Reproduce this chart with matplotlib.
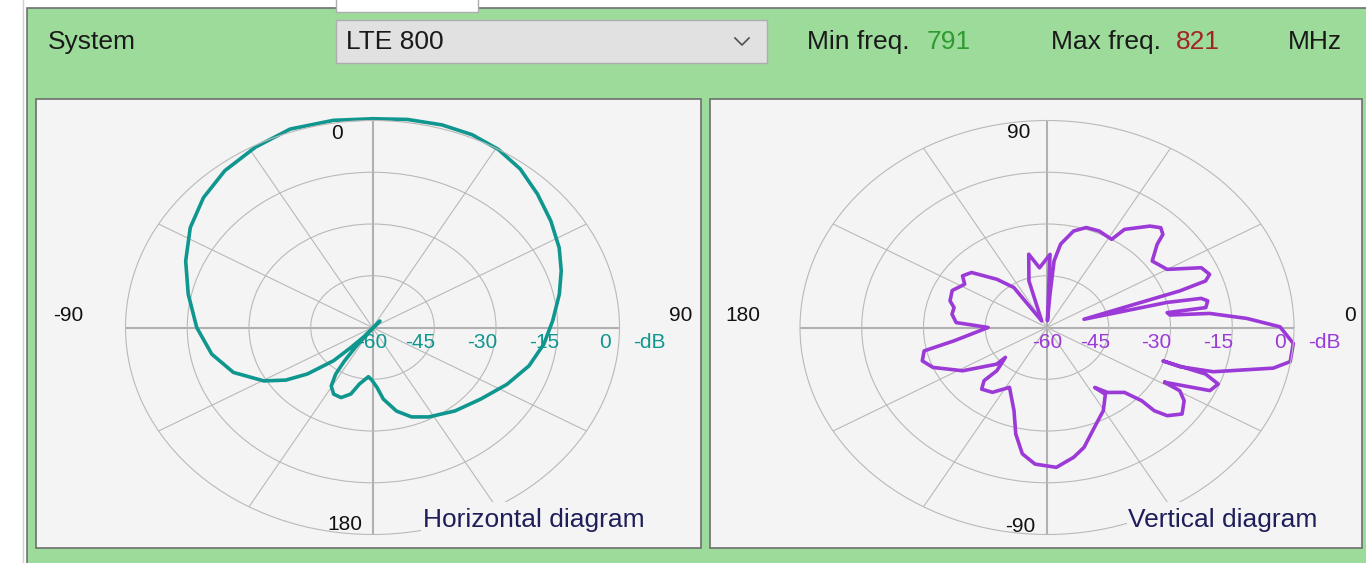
import numpy as np
import matplotlib
matplotlib.use("Agg")
import matplotlib.pyplot as plt
from matplotlib.patches import Rectangle
from matplotlib.lines import Line2D

# ---- data ----
system_name = "LTE 800"
min_freq = "791"
max_freq = "821"

# horizontal diagram: angle in deg, clockwise from north, level in dB
h_angles = [0, 8, 16, 23.4, 30.6, 38, 46, 54.5, 63, 70.3, 78, 87.5, 96.6, 106.3,
            116.7, 128.2, 140.4, 152.2, 159.9, 166.5, 172.8, 176.4, 180.7, 184,
            191, 195.3, 200.6, 206, 210.6, 213.5, 215, 216, 216, 224, 218, 222.2,
            224.5, 229.6, 234.1, 239.6, 248.9, 258.8, 270, 282.2, 293, 303.2, 312.5,
            321.7, 331.4, 340.8, 351, 360]
h_db = [0.5, 0.9, 1.1, 0.9, 0, -1.7, -4.3, -6.8, -9.1, -11.3, -13.6, -16.2, -18.1,
        -20.4, -23.4, -26.5, -28.6, -30.7, -32.4, -35.1, -39.1, -42.6, -44.8, -45.7,
        -43.3, -40, -38.3, -38.5, -40.3, -43.8, -48, -52.8, -56.4, -62.6, -56.6,
        -52.1, -46.5, -39.2, -34, -29.4, -23.8, -20.2, -17.3, -14.2, -10.7, -7.1,
        -4.3, -2.1, -0.5, 0.9, 0.8, 0.5]

# vertical diagram: angle in deg, counter-clockwise from east, level in dB
v_angles = [331, 335.2, 338.5, 340.7, 341, 341, 340.6, 342.4, 347.9, 350.5, 355.6,
            0.2, 3.1, 5.9, 6.9, 8.4, 8.5, 11.2, 12.7, 14, 14.9, 18.2, 19.3, 21.3, 24.8,
            30, 37, 42, 43.8, 46.3, 49.6, 56.5, 58.4, 65.7, 71.8, 77, 82.2, 84.9, 85.7,
            87, 88, 96, 101.8, 108, 124, 124.8, 131, 139, 143.9, 147.9, 155, 161.8,
            165.7, 170.5, 176.3, 180, 189.7, 192.8, 197.7, 202.7, 211.5, 221, 220.6,
            225.8, 225.2, 228.4, 234.8, 242.3, 251.6, 256.2, 260.7, 265.8, 273.2,
            279.7, 284.5, 291.8, 299.6, 306.2, 303.7, 308, 315, 317.3, 317.2, 318.8,
            322.6, 327.5, 330.4, 331]
v_db = [-27.2, -16.4, -15.3, -19.2, -30.2, -29.7, -25.8, -17.6, -3.8, -0.1, 0,
        -3.4, -11.4, -20.3, -29.9, -30.5, -21, -20.2, -21.6, -30, -50.7, -26, -19.2,
        -17.6, -18.7, -26.3, -28, -24, -21, -20, -21.4, -25.9, -30, -29.3, -29.5,
        -31.3, -35.6, -40.6, -50.3, -58, -38.8, -42.6, -38.3, -45.8, -57.7, -45.9,
        -41.5, -35.7, -34.6, -36.4, -34.6, -35.2, -36.7, -36.6, -37.9, -45.7, -37.1,
        -29.4, -28.2, -30, -36, -43.8, -46.7, -42.5, -38.3, -36.1, -37, -40.4, -34.6,
        -28.2, -22.9, -20.3, -19.4, -21.8, -24.1, -28.9, -32.3, -36, -39.1, -36.1,
        -33.4, -28.7, -24.5, -21.2, -18.7, -20.5, -22.9, -27.2]

ring_levels = [-60, -45, -30, -15, 0]

W, H = 1366, 563
plt.rcParams['font.family'] = ['Liberation Sans', 'DejaVu Sans']

GREEN = "#9ddb9b"
PANEL = "#f4f4f4"
GRID = "#b9b9b9"
TEAL = "#0f968e"
PURPLE = "#9c3ad8"


def fx(x):
    return x / W


def fy(y):
    return 1 - y / H


fig = plt.figure(figsize=(W / 100, H / 100), dpi=100, facecolor="white")


def box(x0, y0, x1, y1, **kw):
    r = Rectangle((fx(x0), fy(y1)), (x1 - x0) / W, (y1 - y0) / H,
                  transform=fig.transFigure, **kw)
    fig.add_artist(r)
    return r


def fline(xs, ys, **kw):
    fig.add_artist(Line2D([fx(x) for x in xs], [fy(y) for y in ys],
                          transform=fig.transFigure, **kw))


# window frame
fline([23, 23], [0, H], color="#d0d0d0", lw=1, zorder=-3)
box(27, 8, W + 5, H + 5, facecolor=GREEN, edgecolor="#707070", lw=1.2, zorder=-2)
box(336, -5, 478, 12, facecolor="white", edgecolor="#adadad", lw=1, zorder=-1)

# top bar
box(336, 20, 767, 63, facecolor="#e1e1e1", edgecolor="#adadad", lw=1, zorder=-1)
fline([735, 742, 749], [38, 45, 38], color="#505050", lw=1.2)
ui = dict(fontsize=19, va="center", ha="left")
fig.text(fx(48), fy(42), "System", color="#1a1a1a", **ui)
fig.text(fx(346), fy(42), system_name, color="#1a1a1a", **ui)
fig.text(fx(807), fy(42), "Min freq.", color="#1a1a1a", **ui)
fig.text(fx(927), fy(42), min_freq, color="#2f9a2f", **ui)
fig.text(fx(1051), fy(42), "Max freq.", color="#1a1a1a", **ui)
fig.text(fx(1176), fy(42), max_freq, color="#a32323", **ui)
fig.text(fx(1288), fy(42), "MHz", color="#1a1a1a", **ui)

# panels
box(36, 99, 701, 548, facecolor=PANEL, edgecolor="#6e6e6e", lw=1.2, zorder=-1)
box(710, 99, 1362, 548, facecolor=PANEL, edgecolor="#6e6e6e", lw=1.2, zorder=-1)


def to_polar(angles, db):
    # levels below -60 dB end up on the far side of the centre, as in the app
    r = np.asarray(db, dtype=float) + 60
    th = np.radians(angles) + np.where(r < 0, np.pi, 0)
    return th, np.abs(r)


def make_polar(cx, clockwise_north):
    rx, ry = 247, 207
    cy = 327.5
    ax = fig.add_axes([fx(cx - rx), fy(cy + ry), 2 * rx / W, 2 * ry / H],
                      projection="polar")
    ax.set_aspect("auto")
    ax.set_facecolor("none")
    if clockwise_north:
        ax.set_theta_zero_location("N")
        ax.set_theta_direction(-1)
    ax.set_ylim(0, 60)
    ax.set_thetagrids(range(0, 360, 30), labels=[""] * 12)
    ax.set_rgrids([15, 30, 45], labels=[""] * 3)
    ax.grid(True, color=GRID, lw=0.8)
    for i, gl in enumerate(ax.xaxis.get_gridlines()):
        if i % 3 == 0:
            gl.set_linewidth(1.5)
            gl.set_color("#b0b0b0")
    ax.spines["polar"].set_color(GRID)
    ax.spines["polar"].set_linewidth(0.8)
    ax.tick_params(pad=0, length=0)
    return ax


lab = dict(fontsize=15, ha="center", va="center", textcoords="offset pixels",
           annotation_clip=False)

# ---- horizontal diagram ----
axh = make_polar(372.5, True)
th, r = to_polar(h_angles, h_db)
axh.plot(th, r, color=TEAL, lw=2.6, clip_on=False, solid_joinstyle="round")
east = np.radians(90)
for lv in ring_levels:
    dx = 0 if lv == -60 else -14
    axh.annotate(str(lv), (east, lv + 60), xytext=(dx, -15), color=TEAL, **lab)
axh.annotate("-dB", (east, 60), xytext=(30, -15), color=TEAL, **lab)
axh.annotate("0", (0, 60), xytext=(-36, -13), color="#111111", **lab)
axh.annotate("90", (east, 60), xytext=(61, 12), color="#111111", **lab)
axh.annotate("180", (np.pi, 60), xytext=(-28, 10), color="#111111", **lab)
axh.annotate("-90", (np.radians(270), 60), xytext=(-57, 12), color="#111111", **lab)

# ---- vertical diagram ----
axv = make_polar(1047, False)
th, r = to_polar(v_angles, v_db)
axv.plot(th, r, color=PURPLE, lw=2.6, clip_on=False, solid_joinstyle="round")
for lv in ring_levels:
    dx = 0 if lv == -60 else -14
    axv.annotate(str(lv), (0, lv + 60), xytext=(dx, -15), color=PURPLE, **lab)
axv.annotate("-dB", (0, 60), xytext=(30, -15), color=PURPLE, **lab)
axv.annotate("90", (np.pi / 2, 60), xytext=(-28, -12), color="#111111", **lab)
axv.annotate("0", (0, 60), xytext=(56, 12), color="#111111", **lab)
axv.annotate("180", (np.pi, 60), xytext=(-57, 12), color="#111111", **lab)
axv.annotate("-90", (np.radians(270), 60), xytext=(-27, 8), color="#111111", **lab)

# diagram captions (their background hides part of the outer ring)
box(421, 502, 690, 546, facecolor=PANEL, edgecolor="none", zorder=5)
box(1127, 502, 1355, 546, facecolor=PANEL, edgecolor="none", zorder=5)
fig.text(fx(423), fy(520), "Horizontal diagram", fontsize=19, va="center",
         ha="left", color="#1e1e5a", zorder=6)
fig.text(fx(1128), fy(520), "Vertical diagram", fontsize=19, va="center",
         ha="left", color="#1e1e5a", zorder=6)

fig.savefig("out.png", dpi=100, facecolor="white")
